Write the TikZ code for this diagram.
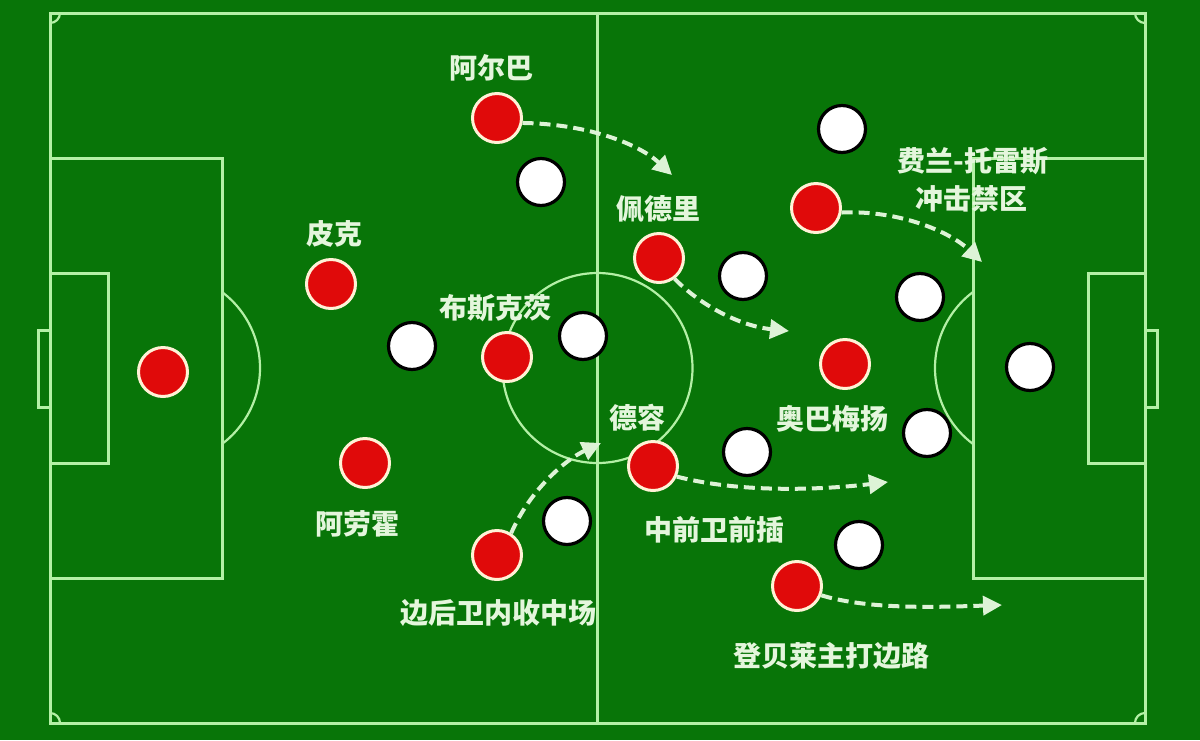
\documentclass[tikz,border=0pt]{standalone}
\usepackage{fontspec}
\newfontfamily\cjk{Noto Sans CJK SC}
\usetikzlibrary{arrows.meta}
\definecolor{pitch}{HTML}{087508}
\definecolor{pline}{HTML}{B4F0A6}
\definecolor{redp}{HTML}{E00A0A}
\definecolor{cream}{HTML}{FFF2D6}
\definecolor{txt}{HTML}{E4F6DC}
\definecolor{arr}{HTML}{DDF3D6}
\tikzset{
  court/.style={draw=pline, line width=3pt},
  thin court/.style={draw=pline, line width=2.2pt},
  redplayer/.style={circle, fill=redp, draw=cream, line width=3pt, minimum size=49pt, inner sep=0pt},
  whiteplayer/.style={circle, fill=white, draw=black, line width=3.2pt, minimum size=47pt, inner sep=0pt},
  lbl/.style={text=txt, font=\cjk\bfseries\fontsize{28}{32}\selectfont, inner sep=0pt},
  run/.style={draw=arr, line width=4pt, dash pattern=on 11pt off 6pt, -{Triangle[length=19pt,width=19pt,fill=arr]}}
}
\begin{document}
\begin{tikzpicture}[x=1pt,y=-1pt]
\fill[pitch] (0,0) rectangle (1200,740);
\useasboundingbox (0,0) rectangle (1200,740);
% pitch markings
\draw[court] (50,13) rectangle (1145,723);
\draw[court] (597.5,13) -- (597.5,723);
\draw[thin court] (597.5,368) circle[radius=95];
\draw[court] (50,158) rectangle (222,578);
\draw[court] (1145,158) rectangle (973,578);
\draw[court] (50,273) rectangle (108,463);
\draw[court] (1145,273) rectangle (1088,463);
\draw[court] (50,330) rectangle (38,407);
\draw[court] (1145,330) rectangle (1157,407);
\draw[thin court] (222,292) arc[start angle=-53.13, end angle=53.13, radius=95];
\draw[thin court] (973,292) arc[start angle=233.13, end angle=126.87, radius=95];
\draw[thin court] (60,13) arc[start angle=0, end angle=90, radius=10];
\draw[thin court] (1145,23) arc[start angle=90, end angle=180, radius=10];
\draw[thin court] (60,723) arc[start angle=0, end angle=-90, radius=10];
\draw[thin court] (1135,723) arc[start angle=180, end angle=270, radius=10];
% white players
\node[whiteplayer] (w1) at (412,346) {};
\node[whiteplayer] (w2) at (541,182) {};
\node[whiteplayer] (w3) at (583,336) {};
\node[whiteplayer] (w4) at (567,521) {};
\node[whiteplayer] (w5) at (743,276) {};
\node[whiteplayer] (w6) at (747,452) {};
\node[whiteplayer] (w7) at (842,129) {};
\node[whiteplayer] (w8) at (920,297) {};
\node[whiteplayer] (w9) at (927,433) {};
\node[whiteplayer] (w10) at (1030,367) {};
\node[whiteplayer] (w11) at (859,545) {};
% red players
\node[redplayer] (gk) at (163,372) {};
\node[redplayer] (pique) at (331,284) {};
\node[redplayer] (araujo) at (365,463) {};
\node[redplayer] (busq) at (507,357) {};
\node[redplayer] (alba) at (497,118) {};
\node[redplayer] (fb) at (497,555) {};
\node[redplayer] (pedri) at (659,258) {};
\node[redplayer] (dejong) at (653,466) {};
\node[redplayer] (ferran) at (816,208) {};
\node[redplayer] (auba) at (845,364) {};
\node[redplayer] (dembele) at (797,586) {};
% labels
\node[lbl] (lalba) at (491,68) {阿尔巴};
\node[lbl] (lpique) at (334,234) {皮克};
\node[lbl] (lbusq) at (495,308) {布斯克茨};
\node[lbl] (laraujo) at (357,524) {阿劳霍};
\node[lbl] (lfb) at (498,613) {边后卫内收中场};
\node[lbl] (lpedri) at (658,209) {佩德里};
\node[lbl] (ldejong) at (637,418) {德容};
\node[lbl] (lcm) at (714,530) {中前卫前插};
\node[lbl] (lferran) at (973,161) {费兰-托雷斯};
\node[lbl] (lferran2) at (971,199) {冲击禁区};
\node[lbl] (lauba) at (832,419) {奥巴梅扬};
\node[lbl] (ldembele) at (831,656) {登贝莱主打边路};
% run targets
\coordinate (t1) at (672,175);
\coordinate (t2) at (982,262);
\coordinate (t3) at (789,331);
\coordinate (t4) at (888,482);
\coordinate (t5) at (601,443);
\coordinate (t6) at (1002,605);
% runs
\draw[run] (alba.-11) .. controls (590,124) and (640,145) .. (t1);
\draw[run] (ferran.-10) .. controls (900,210) and (950,232) .. (t2);
\draw[run] (pedri.-53) .. controls (700,305) and (740,326) .. (t3);
\draw[run] (dejong.-24) .. controls (740,493) and (820,490) .. (t4);
\draw[run] (fb.57) .. controls (530,490) and (565,460) .. (t5);
\draw[run] (dembele.-21) .. controls (870,610) and (940,607) .. (t6);
\end{tikzpicture}
\end{document}
